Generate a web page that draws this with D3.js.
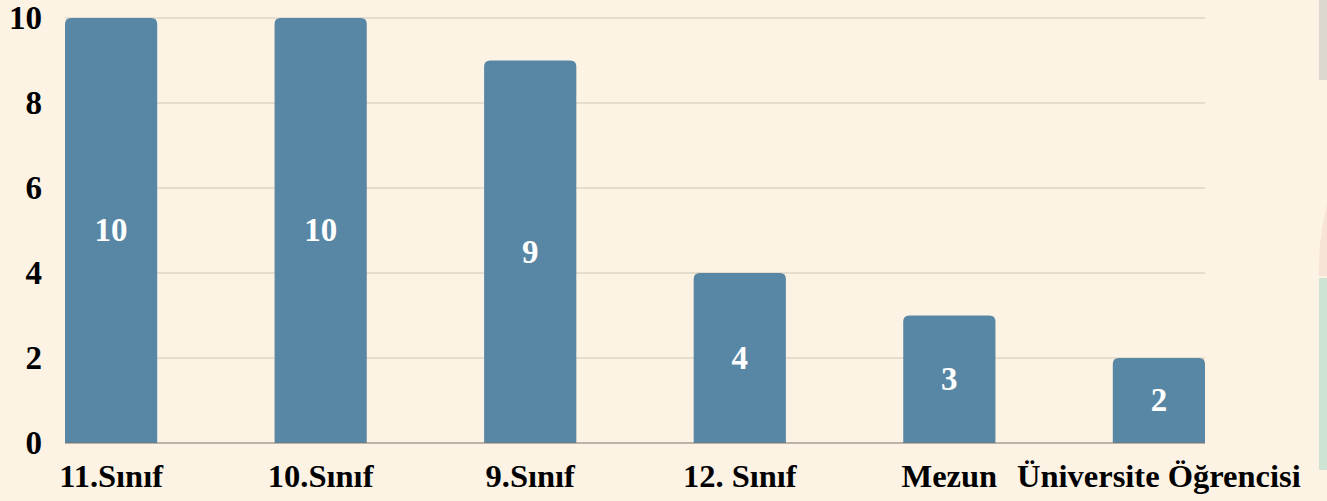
<html lang="tr">
<head>
<meta charset="utf-8">
<title>Sınıf dağılımı</title>
<style>
  body { margin: 0; background-color: #fcf3e5; overflow: hidden; }
  svg { display: block; }
  .grid line { stroke: #cfc6b4; stroke-width: 1; }
  .baseline { stroke: #7d756c; stroke-width: 1.2; }
  .ytick, .xlabel, .vlabel {
    font-family: "Liberation Serif", "Times New Roman", serif;
    font-weight: bold;
  }
  .ytick { font-size: 33px; fill: #000; }
  .xlabel { font-size: 32.5px; fill: #000; }
  .vlabel { font-size: 33px; fill: #fff; }
  .bar { fill: #5887a5; }
</style>
</head>
<body>
<script src="https://cdn.jsdelivr.net/npm/d3@7"></script>
<script>
var categories = ["11.Sınıf", "10.Sınıf", "9.Sınıf", "12. Sınıf", "Mezun", "Üniversite Öğrencisi"];
var counts = [10, 10, 9, 4, 3, 2];
var yTicks = [0, 2, 4, 6, 8, 10];

var fullwidth = 1327, fullheight = 501;
var margin = { top: 18, right: 122, bottom: 58, left: 65 };
var width = fullwidth - margin.left - margin.right;
var height = fullheight - margin.top - margin.bottom;

var svg = d3.select("body").append("svg")
  .attr("width", fullwidth)
  .attr("height", fullheight);

// decorative strips at the right page edge
svg.append("rect").attr("x", 1319).attr("y", 0).attr("width", 8).attr("height", 80).attr("fill", "#dcd8cf");
svg.append("rect").attr("x", 1319).attr("y", 278).attr("width", 8).attr("height", 192).attr("fill", "#cfe3d5");
svg.append("path").attr("d", "M1327,205 Q1318,240 1319,276 L1327,276 Z").attr("fill", "#f8e3d8");

var g = svg.append("g").attr("transform", "translate(" + margin.left + "," + margin.top + ")");

var x = d3.scaleBand().domain(categories).range([0, width]).paddingInner(0.56).paddingOuter(0);
var y = d3.scaleLinear().domain([0, 10]).range([height, 0]);

// gridlines
g.append("g").attr("class", "grid")
  .selectAll("line").data(yTicks.filter(function(d) { return d > 0; }))
  .enter().append("line")
  .attr("x1", 0).attr("x2", width)
  .attr("y1", function(d) { return y(d); })
  .attr("y2", function(d) { return y(d); });

// y tick labels
g.selectAll(".ytick").data(yTicks).enter().append("text")
  .attr("class", "ytick")
  .attr("x", -23)
  .attr("y", function(d) { return y(d); })
  .attr("dy", "0.33em")
  .attr("text-anchor", "end")
  .text(function(d) { return d; });

// bars with rounded top corners
var r = 6;
g.selectAll(".bar").data(counts).enter().append("path")
  .attr("class", "bar")
  .attr("d", function(d, i) {
    var x0 = x(categories[i]), w = x.bandwidth(), y0 = y(d), y1 = y(0);
    return "M" + x0 + "," + y1 +
      "V" + (y0 + r) +
      "Q" + x0 + "," + y0 + " " + (x0 + r) + "," + y0 +
      "H" + (x0 + w - r) +
      "Q" + (x0 + w) + "," + y0 + " " + (x0 + w) + "," + (y0 + r) +
      "V" + y1 + "Z";
  });

g.append("line").attr("class", "baseline")
  .attr("x1", 0).attr("x2", width)
  .attr("y1", y(0)).attr("y2", y(0));

// value labels
g.selectAll(".vlabel").data(counts).enter().append("text")
  .attr("class", "vlabel")
  .attr("x", function(d, i) { return x(categories[i]) + x.bandwidth() / 2; })
  .attr("y", function(d) { return (y(d) + y(0)) / 2; })
  .attr("dy", "0.33em")
  .attr("text-anchor", "middle")
  .text(function(d) { return d; });

// category labels
g.selectAll(".xlabel").data(categories).enter().append("text")
  .attr("class", "xlabel")
  .attr("x", function(d) { return x(d) + x.bandwidth() / 2; })
  .attr("y", height + 44)
  .attr("text-anchor", "middle")
  .text(function(d) { return d; });
</script>
</body>
</html>
